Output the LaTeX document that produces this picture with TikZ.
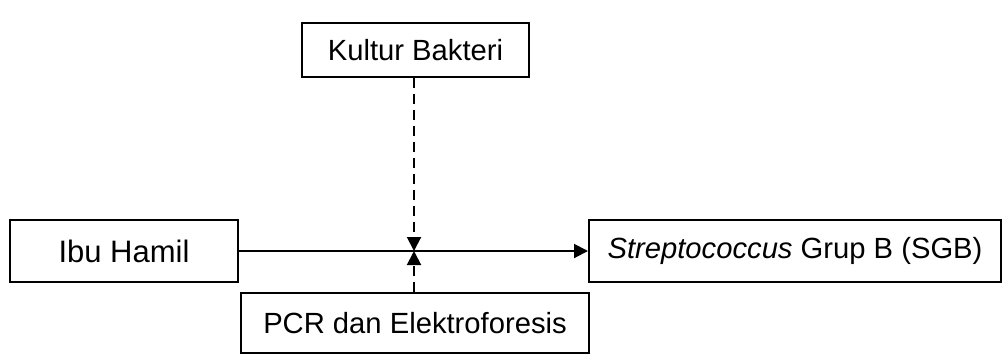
\documentclass[tikz,border=0pt]{standalone}
\usepackage{fontspec}
\setmainfont{Liberation Sans}
\usetikzlibrary{arrows.meta}
\tikzset{>=stealth,
  kotak/.style={draw,black,line width=1pt,inner sep=0pt,font=\fontsize{14.6}{18}\selectfont},
  panah/.style={line width=1pt,black,-{Triangle[length=7pt,width=7pt]}},
  putus/.style={panah,dash pattern=on 5pt off 3pt}}

\begin{document}
\begin{tikzpicture}[x=0.5pt,y=-0.5pt]
       \useasboundingbox (0,0) rectangle (1006,360);
       \node[kotak,minimum width=113.5pt,minimum height=27pt] at (415.5, 50)   (kultur) {Kultur Bakteri};
       \node[kotak,minimum width=114pt,minimum height=31pt,font=\fontsize{15.5}{19}\selectfont] at (124, 251)   (ibu) {Ibu Hamil};
       \node[kotak,minimum width=206pt,minimum height=31pt] at (795, 251)   (sgb) {\textit{Streptococcus} Grup B (SGB)};
       \node[kotak,minimum width=174pt,minimum height=30pt] at (415, 323)   (pcr) {PCR dan Elektroforesis};
       \coordinate (temu) at (414, 251);
       \draw[panah] (ibu)--(sgb);
     \draw[putus] (temu |- kultur.south)--(temu);
     \draw[putus] (temu |- pcr.north)--(temu);
     \end{tikzpicture}
\end{document}
